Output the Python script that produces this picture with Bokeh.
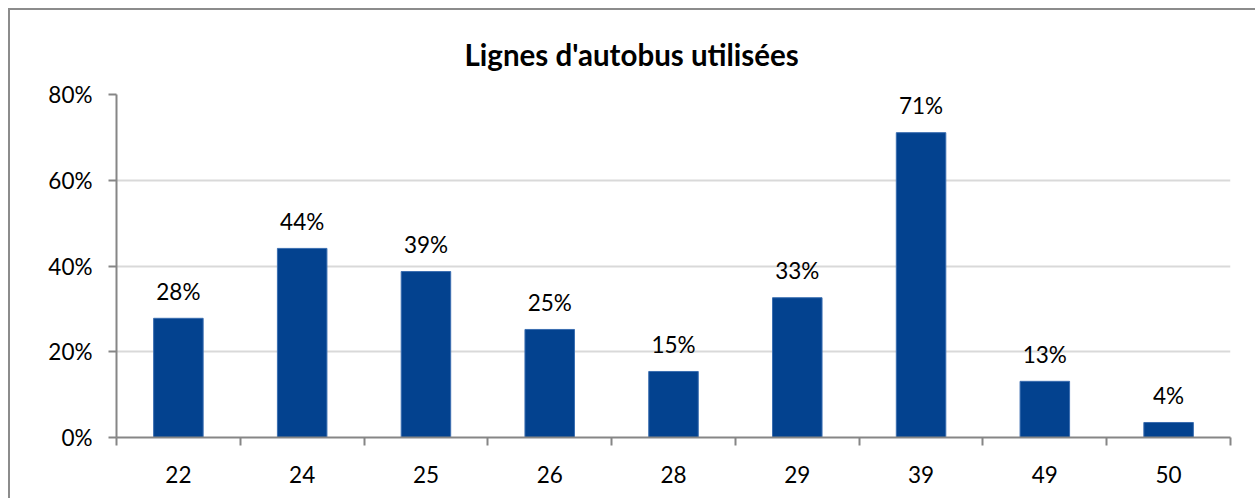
from bokeh.plotting import figure
from bokeh.models import ColumnDataSource, FixedTicker, LabelSet, Range1d, NumeralTickFormatter
from bokeh.core.properties import value
from bokeh.embed import file_html
from bokeh.resources import INLINE

categories = ["22", "24", "25", "26", "28", "29", "39", "49", "50"]
values = [0.278, 0.441, 0.387, 0.252, 0.154, 0.326, 0.711, 0.131, 0.035]
y_ticks = [0, 0.2, 0.4, 0.6, 0.8]

FONT = "Lato"
n = len(categories)
xs = [i + 0.5 for i in range(n)]
labels = [f"{round(v*100):.0f}%" for v in values]

src = ColumnDataSource(dict(x=xs, top=values, lab=labels, cat=categories))

p = figure(width=1245, height=488, output_backend="svg", toolbar_location=None,
           x_range=Range1d(0, n), y_range=Range1d(0, 0.8),
           frame_width=1114, frame_height=343,
           min_border_left=106, min_border_right=25, min_border_top=84, min_border_bottom=61,
           title="Lignes d'autobus utilisées")
p.styles = {"border-left": "2px solid #8c8c8c", "border-top": "2px solid #8c8c8c",
            "margin-left": "8px", "margin-top": "8px"}
p.outline_line_color = None
p.background_fill_color = "white"
p.border_fill_color = "white"

p.title.text_font = FONT
p.title.text_font_size = "29.5px"
p.title.text_font_style = "bold"
p.title.align = "left"
p.title.offset = 348
p.title.standoff = 46
p.title.text_color = "black"

p.vbar(x="x", top="top", width=0.4, source=src, fill_color="#03428f", line_color="#3a6db0", line_width=1)

p.add_layout(LabelSet(x="x", y="top", text="lab", source=src, text_align="center",
                      text_baseline="middle", y_offset=27, text_font=value(FONT),
                      text_font_size=value("22.5px"), text_color="black"))

# x axis
p.xaxis.ticker = FixedTicker(ticks=xs, minor_ticks=list(range(n + 1)))
p.xaxis.major_label_overrides = {x: c for x, c in zip(xs, categories)}
p.xaxis.major_tick_line_color = None
p.xaxis.minor_tick_line_color = "#868686"
p.xaxis.minor_tick_out = 8
p.xaxis.minor_tick_in = 0
p.xaxis.minor_tick_line_width = 2
p.xaxis.axis_line_color = "#868686"
p.xaxis.axis_line_width = 2
p.xaxis.major_label_text_font = FONT
p.xaxis.major_label_text_font_size = "22.5px"
p.xaxis.major_label_text_color = "black"
p.xaxis.major_label_standoff = 20

# y axis
p.yaxis.ticker = FixedTicker(ticks=y_ticks, minor_ticks=[])
p.yaxis.formatter = NumeralTickFormatter(format="0%")
p.yaxis.axis_line_color = "#868686"
p.yaxis.axis_line_width = 2
p.yaxis.major_tick_line_color = "#868686"
p.yaxis.major_tick_line_width = 2
p.yaxis.major_tick_out = 8
p.yaxis.major_tick_in = 0
p.yaxis.major_label_text_font = FONT
p.yaxis.major_label_text_font_size = "22.5px"
p.yaxis.major_label_text_color = "black"
p.yaxis.major_label_standoff = 16

p.xgrid.grid_line_color = None
p.ygrid.ticker = FixedTicker(ticks=y_ticks)
p.ygrid.grid_line_color = "#d9d9d9"
p.ygrid.grid_line_width = 2

open("out.html", "w").write(file_html(p, INLINE))
